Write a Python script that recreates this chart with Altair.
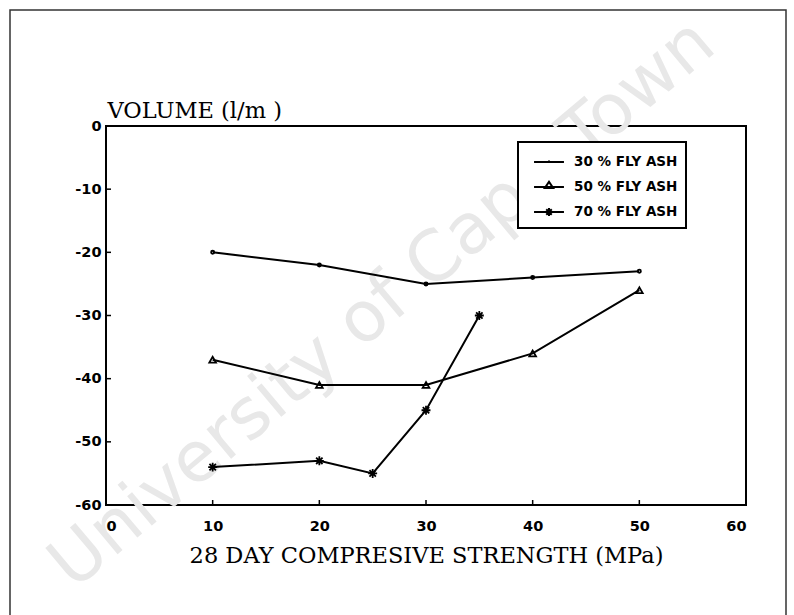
import altair as alt
import pandas as pd

# ---- data ----
series_names = ["30 % FLY ASH", "50 % FLY ASH", "70 % FLY ASH"]
strength_30 = [10, 20, 30, 40, 50]
volume_30 = [-20, -22, -25, -24, -23]
strength_50 = [10, 20, 30, 40, 50]
volume_50 = [-37, -41, -41, -36, -26]
strength_70 = [10, 20, 25, 30, 35]
volume_70 = [-54, -53, -55, -45, -30]

x_tick_values = [0, 10, 20, 30, 40, 50, 60]
y_tick_values = [0, -10, -20, -30, -40, -50, -60]
inner_x_ticks = [10, 20, 30, 40, 50]
inner_y_ticks = [-10, -20, -30, -40, -50]

x_title = "28 DAY COMPRESIVE STRENGTH (MPa)"
y_title = "VOLUME (l/m )"
watermark_text = "University of Cape Town"

rows = []
for name, xs, ys in zip(series_names,
                        [strength_30, strength_50, strength_70],
                        [volume_30, volume_50, volume_70]):
    for i, (xv, yv) in enumerate(zip(xs, ys)):
        rows.append({"series": name, "strength": xv, "volume": yv, "order": i})
df = pd.DataFrame(rows)

xscale = alt.Scale(domain=[0, 60], nice=False, zero=False)
yscale = alt.Scale(domain=[-60, 0], nice=False, zero=False)

x_enc = alt.X("strength:Q", scale=xscale,
              axis=alt.Axis(values=x_tick_values, title=x_title, titlePadding=12,
                            labelPadding=14, labelExpr="replace(datum.label, '\u2212', '-')"))
y_enc = alt.Y("volume:Q", scale=yscale,
              axis=alt.Axis(values=y_tick_values, title=y_title, titleAngle=0,
                            titleAlign="left", titleBaseline="alphabetic",
                            titleX=1, titleY=-9, labelPadding=5,
                            labelExpr="replace(datum.label, '\u2212', '-')"))

STAR = "M-1,0H1M0,-1V1M-0.72,-0.72L0.72,0.72M-0.72,0.72L0.72,-0.72"
marker_shapes = ["circle", "triangle-up", STAR]
marker_sizes = [10, 80, 90]

legend_paths = [
    "M-0.36,0H2.36M1,-0.14V0.06",
    "M-0.36,0H2.36M0.62,0.1L1,-0.48L1.38,0.1Z",
    "M-0.36,0H2.36M0.64,0H1.36M1,-0.36V0.36M0.75,-0.25L1.25,0.25M0.75,0.25L1.25,-0.25",
]

base = alt.Chart(df)

watermark = alt.Chart(pd.DataFrame({"t": [watermark_text]})).mark_text(
    angle=320, align="left", baseline="middle", font="DejaVu Sans",
    fontSize=70, color="#e8e8e8"
).encode(text="t:N", x=alt.value(-46), y=alt.value(449))

frame = alt.Chart(pd.DataFrame({"k": [0]})).mark_rect(
    filled=False, stroke="#333333", strokeWidth=1.5
).encode(x=alt.value(-96), x2=alt.value(680), y=alt.value(-116), y2=alt.value(500))

xticks = alt.Chart(pd.DataFrame({"strength": inner_x_ticks})).mark_rule(
    color="black", strokeWidth=1.5
).encode(x="strength:Q", y=alt.value(379), y2=alt.value(374))

yticks = alt.Chart(pd.DataFrame({"volume": inner_y_ticks})).mark_rule(
    color="black", strokeWidth=1.5
).encode(y="volume:Q", x=alt.value(0), x2=alt.value(5))

lines = base.mark_line(color="black", strokeWidth=2).encode(
    x=x_enc, y=y_enc, detail="series:N", order="order:Q"
)

points = base.mark_point(filled=False, color="black", strokeWidth=1.8, opacity=1).encode(
    x="strength:Q", y="volume:Q",
    shape=alt.Shape("series:N", scale=alt.Scale(domain=series_names, range=marker_shapes),
                    legend=None),
    size=alt.Size("series:O", scale=alt.Scale(domain=series_names, range=marker_sizes),
                  legend=None),
)

legend_layer = base.transform_filter("datum.volume > 1000").mark_point(
    filled=False, color="black", strokeWidth=2, size=484, opacity=1
).encode(
    x="strength:Q", y="volume:Q",
    shape=alt.Shape(
        "series:N",
        scale=alt.Scale(domain=series_names, range=legend_paths),
        legend=alt.Legend(
            title=None, orient="none", legendX=412, legendY=16, direction="vertical",
            padding=8, rowPadding=6, symbolSize=484, symbolStrokeWidth=2,
            symbolStrokeColor="black", labelOffset=24,
            labelFont="DejaVu Sans", labelFontWeight="bold", labelFontSize=13.5,
            labelColor="black", fillColor="white", zindex=2,
        ),
    ),
)

chart = alt.layer(watermark, frame, xticks, yticks, lines, points, legend_layer).resolve_scale(
    shape="independent", size="independent"
).properties(
    width=640, height=379,
    autosize=alt.AutoSizeParams(type="none"),
    padding={"left": 106, "top": 126, "right": 48, "bottom": 110},
    background="white",
).configure_view(
    stroke="black", strokeWidth=2
).configure_axis(
    grid=False, domain=False, ticks=False, tickSize=0, zindex=1,
    labelFont="DejaVu Sans", labelFontWeight="bold", labelFontSize=14.5, labelColor="black",
    titleFont="DejaVu Serif", titleFontWeight="normal", titleFontSize=22.5, titleColor="black",
).configure_legend(
    strokeColor="black", strokeWidth=2
)

chart.save("out.html", embed_options={"renderer": "svg", "actions": False})
